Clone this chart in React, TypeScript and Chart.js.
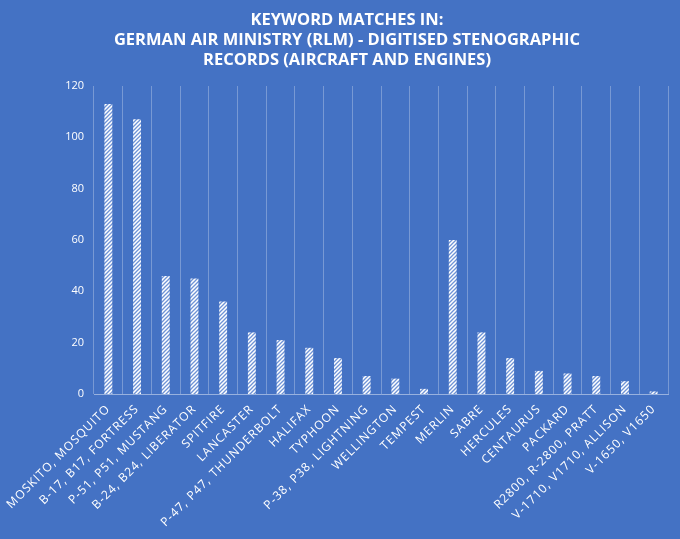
import React, { useEffect, useRef } from "react";
import { Chart, registerables } from "chart.js";

Chart.register(...registerables);

const categories: string[] = [
  "MOSKITO, MOSQUITO",
  "B-17, B17, FORTRESS",
  "P-51, P51, MUSTANG",
  "B-24, B24, LIBERATOR",
  "SPITFIRE",
  "LANCASTER",
  "P-47, P47, THUNDERBOLT",
  "HALIFAX",
  "TYPHOON",
  "P-38, P38, LIGHTNING",
  "WELLINGTON",
  "TEMPEST",
  "MERLIN",
  "SABRE",
  "HERCULES",
  "CENTAURUS",
  "PACKARD",
  "R2800, R-2800, PRATT",
  "V-1710, V1710, ALLISON",
  "V-1650, V1650",
];

const matches: number[] = [113, 107, 46, 45, 36, 24, 21, 18, 14, 7, 6, 2, 60, 24, 14, 9, 8, 7, 5, 1];

const titleLines: string[] = [
  "KEYWORD MATCHES IN:",
  "GERMAN AIR MINISTRY (RLM) - DIGITISED STENOGRAPHIC",
  "RECORDS (AIRCRAFT AND ENGINES)",
];

const BG = "#4472C4";
const FONT = "'Open Sans', 'Noto Sans', sans-serif";

function makePattern(): CanvasPattern | string {
  const c = document.createElement("canvas");
  c.width = 4;
  c.height = 4;
  const g = c.getContext("2d");
  if (!g) return "#ffffff";
  g.fillStyle = "#ffffff";
  g.fillRect(0, 0, 4, 4);
  g.strokeStyle = "#6f93d6";
  g.lineWidth = 1.3;
  g.beginPath();
  g.moveTo(0, 4);
  g.lineTo(4, 0);
  g.moveTo(-1, 1);
  g.lineTo(1, -1);
  g.moveTo(3, 5);
  g.lineTo(5, 3);
  g.stroke();
  const p = g.createPattern(c, "repeat");
  return p || "#ffffff";
}

const bgPlugin = {
  id: "bgFill",
  beforeDraw(chart: any) {
    const ctx = chart.ctx;
    ctx.save();
    ctx.fillStyle = BG;
    ctx.fillRect(0, 0, chart.width, chart.height);
    ctx.restore();
  },
};

const titlePlugin = {
  id: "customTitle",
  afterDraw(chart: any) {
    const ctx = chart.ctx;
    ctx.save();
    ctx.fillStyle = "#ffffff";
    ctx.font = `bold 16.5px ${FONT}`;
    ctx.textAlign = "center";
    ctx.textBaseline = "middle";
    titleLines.forEach((line, i) => {
      ctx.fillText(line, 347, 20 + i * 20);
    });
    ctx.restore();
  },
};

function patchSpacing(scale: any, spacing: string) {
  if (scale._spacingPatched) return;
  const orig = scale.drawLabels.bind(scale);
  scale.drawLabels = (area: any) => {
    const c = scale.ctx as any;
    const prev = c.letterSpacing;
    c.letterSpacing = spacing;
    orig(area);
    c.letterSpacing = prev || "0px";
  };
  scale._spacingPatched = true;
}

export default function App() {
  const ref = useRef<HTMLCanvasElement | null>(null);

  useEffect(() => {
    document.body.style.margin = "0";
    document.body.style.background = BG;
    const canvas = ref.current;
    if (!canvas) return;
    const pattern = makePattern();
    const chart = new Chart(canvas, {
      type: "bar",
      data: {
        labels: categories,
        datasets: [
          {
            data: matches,
            backgroundColor: pattern as any,
            borderWidth: 0,
            barPercentage: 0.3,
            categoryPercentage: 0.92,
          },
        ],
      },
      plugins: [bgPlugin, titlePlugin],
      options: {
        responsive: false,
        animation: false,
        devicePixelRatio: 1,
        layout: { padding: { left: 0, right: 12, top: 86, bottom: 0 } },
        plugins: {
          legend: { display: false },
          tooltip: { enabled: false },
          title: { display: false },
        },
        scales: {
          x: {
            grid: {
              display: true,
              offset: true,
              color: "rgba(255,255,255,0.28)",
              lineWidth: 1,
              drawTicks: false,
            },
            border: { display: true, color: "rgba(255,255,255,0.45)", width: 1 },
            ticks: {
              color: "#ffffff",
              font: { family: FONT, size: 12 },
              maxRotation: 45,
              minRotation: 45,
              autoSkip: false,
              padding: 8,
            },
            afterFit(scale: any) {
              scale.height = 145;
              patchSpacing(scale, "1px");
            },
          },
          y: {
            min: 0,
            max: 120,
            grid: { display: false, drawTicks: false },
            border: { display: false },
            ticks: {
              stepSize: 20,
              color: "#ffffff",
              font: { family: FONT, size: 11 },
              padding: 10,
            },
            afterFit(scale: any) {
              scale.width = 94;
            },
          },
        },
      },
    });
    return () => chart.destroy();
  }, []);

  return (
    <div style={{ width: 680, height: 539, background: BG }}>
      <canvas ref={ref} width={680} height={539} style={{ display: "block" }} />
    </div>
  );
}
